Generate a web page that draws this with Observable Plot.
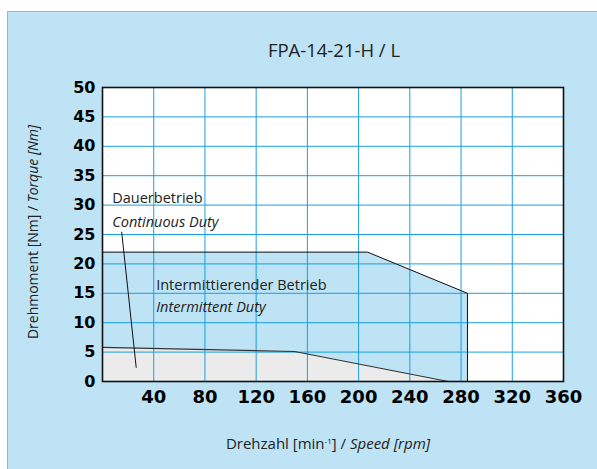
<!DOCTYPE html>
<html><head><meta charset="utf-8">
<script src="https://cdn.jsdelivr.net/npm/d3@7"></script>
<script src="https://cdn.jsdelivr.net/npm/@observablehq/plot@0.6"></script>
<style>
body{margin:0;background:#fff;}
#wrap{position:relative;width:597px;height:469px;overflow:hidden;}
#panel{position:absolute;left:7px;top:11px;width:620px;height:480px;background:#bde3f5;border-left:1px solid #a8b3b9;border-top:1px solid #a8b3b9;}
#chart{position:absolute;left:0;top:0;}
</style></head><body>
<div id="wrap"><div id="panel"></div><div id="chart"></div></div>
<script>
// ---- data ----
const xTicks = [40, 80, 120, 160, 200, 240, 280, 320, 360];
const yTicks = [0, 5, 10, 15, 20, 25, 30, 35, 40, 45, 50];
const intermittentSpeed = [0, 207, 285, 285];
const intermittentTorque = [22, 22, 15, 0];
const continuousSpeed = [0, 150, 270];
const continuousTorque = [5.8, 5.1, 0];
const pointerSpeed = [15, 26.3];
const pointerTorque = [25.4, 2.4];
const contLabels = ["Dauerbetrieb", "Continuous Duty"];
const contLabelSpeed = [7.6, 7.6];
const contLabelTorque = [30.35, 26.3];
const interLabels = ["Intermittierender Betrieb", "Intermittent Duty"];
const interLabelSpeed = [41.9, 41.9];
const interLabelTorque = [15.6, 11.75];
const title = "FPA-14-21-H / L";

// ---- tables ----
const inter = intermittentSpeed.map((s, i) => ({speed: s, torque: intermittentTorque[i]}));
const cont = continuousSpeed.map((s, i) => ({speed: s, torque: continuousTorque[i]}));
const pointer = pointerSpeed.map((s, i) => ({speed: s, torque: pointerTorque[i]}));
const cl = contLabels.map((t, i) => ({t, speed: contLabelSpeed[i], torque: contLabelTorque[i]}));
const il = interLabels.map((t, i) => ({t, speed: interLabelSpeed[i], torque: interLabelTorque[i]}));

const FONT = "'Open Sans', sans-serif";
const BOLD = "'DejaVu Sans', sans-serif";
const GRID = "#1a9fe0";

const plot = Plot.plot({
  width: 597, height: 469,
  marginLeft: 102, marginRight: 34, marginTop: 87, marginBottom: 88,
  style: {background: "transparent", overflow: "visible"},
  x: {domain: [0, 360]},
  y: {domain: [0, 50]},
  marks: [
    Plot.frame({fill: "white"}),
    Plot.areaY(inter.slice(0, 3), {x: "speed", y: "torque", fill: "#bde3f5"}),
    Plot.areaY(cont, {x: "speed", y: "torque", fill: "#ebebeb"}),
    Plot.gridX(xTicks, {stroke: GRID, strokeOpacity: 1, strokeWidth: 1}),
    Plot.gridY(yTicks, {stroke: GRID, strokeOpacity: 1, strokeWidth: 1}),
    Plot.line(inter, {x: "speed", y: "torque", stroke: "#111", strokeWidth: 1}),
    Plot.line(cont, {x: "speed", y: "torque", stroke: "#333", strokeWidth: 1.2}),
    Plot.line(pointer, {x: "speed", y: "torque", stroke: "#111", strokeWidth: 1}),
    Plot.text(cl.slice(0, 1), {x: "speed", y: "torque", text: "t", textAnchor: "start", lineAnchor: "bottom", fontSize: 14.5, fontFamily: FONT, fill: "#222"}),
    Plot.text(cl.slice(1), {x: "speed", y: "torque", text: "t", textAnchor: "start", lineAnchor: "bottom", fontSize: 14.5, fontStyle: "italic", fontFamily: FONT, fill: "#222"}),
    Plot.text(il.slice(0, 1), {x: "speed", y: "torque", text: "t", textAnchor: "start", lineAnchor: "bottom", fontSize: 14.5, fontFamily: FONT, fill: "#222"}),
    Plot.text(il.slice(1), {x: "speed", y: "torque", text: "t", textAnchor: "start", lineAnchor: "bottom", fontSize: 14.5, fontStyle: "italic", fontFamily: FONT, fill: "#222"}),
    Plot.axisX(xTicks, {tickSize: 0, tickPadding: 9, fontSize: 18, fontWeight: "bold", fontFamily: BOLD, color: "#000", label: null}),
    Plot.axisY(yTicks, {tickSize: 0, tickPadding: 7, fontSize: 16, fontWeight: "bold", fontFamily: BOLD, color: "#000", label: null}),
    Plot.frame({stroke: "#111", strokeWidth: 1.6})
  ]
});
document.getElementById("chart").append(plot);

const svg = d3.select(plot);
svg.append("text").attr("x", 334).attr("y", 57).attr("text-anchor", "middle")
  .attr("font-family", FONT).attr("font-size", 18.5).attr("fill", "#222").text(title);

const xt = svg.append("text").attr("x", 328).attr("y", 449).attr("text-anchor", "middle")
  .attr("font-family", FONT).attr("font-size", 15).attr("fill", "#222");
xt.append("tspan").text("Drehzahl [min");
xt.append("tspan").attr("dy", -5).attr("font-size", 8).text("-1");
xt.append("tspan").attr("dy", 5).text("] / ");
xt.append("tspan").attr("font-style", "italic").text("Speed [rpm]");

const yt = svg.append("text").attr("transform", "translate(38,232) rotate(-90)").attr("text-anchor", "middle")
  .attr("font-family", FONT).attr("font-size", 14).attr("fill", "#222");
yt.append("tspan").text("Drehmoment [Nm] / ");
yt.append("tspan").attr("font-style", "italic").text("Torque [Nm]");
</script>
</body></html>
